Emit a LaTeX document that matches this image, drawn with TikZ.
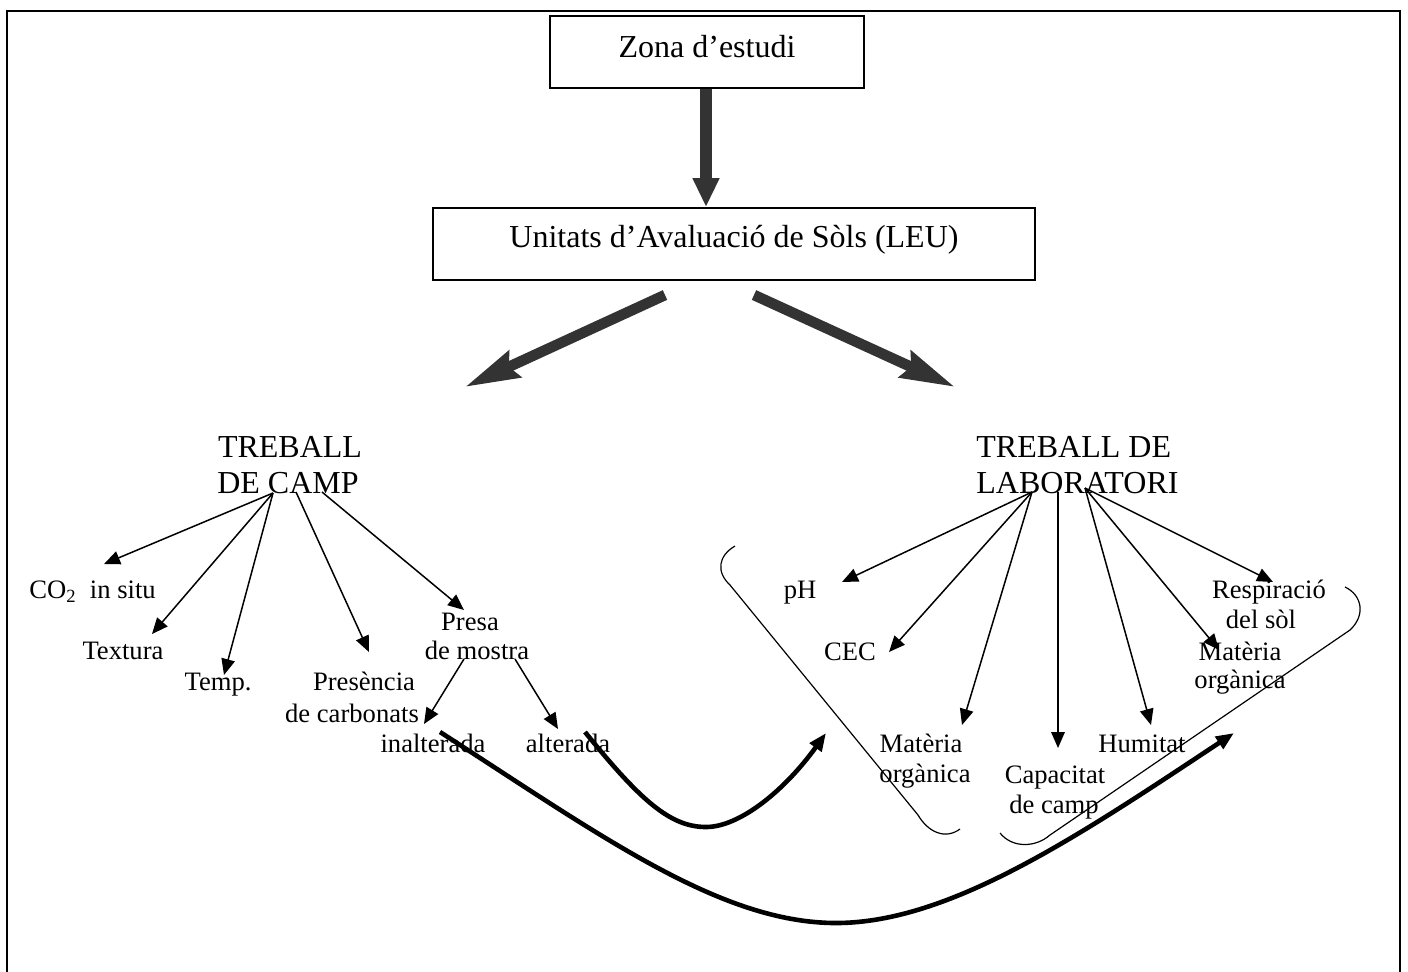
\documentclass[tikz,border=0pt]{standalone}
\usepackage{fontspec}
\setmainfont{Liberation Serif}
\usetikzlibrary{arrows.meta}
\definecolor{fatgray}{HTML}{333333}
\begin{document}
\begin{tikzpicture}[x=0.5pt,y=-0.5pt,
  big/.style={font=\fontsize{16}{18}\selectfont, inner sep=0pt, anchor=base},
  small/.style={font=\fontsize{13.3}{15.5}\selectfont, inner sep=0pt, anchor=base},
  boxnode/.style={draw, line width=0.9pt, inner sep=0pt, font=\fontsize{16}{18}\selectfont},
  fatdown/.style={draw=fatgray, line width=6pt, -{Triangle[length=14.5pt,width=12.5pt]}, fatgray},
  fatdiag/.style={draw=fatgray, line width=5.3pt, -{Stealth[length=27pt,width=14pt,inset=3pt]}, fatgray},
  thinarrow/.style={line width=0.75pt, -{Triangle[length=8pt,width=6.8pt]}},
  curvearrow/.style={line width=2.3pt, -{Triangle[length=9pt,width=7pt]}},
  bracket/.style={line width=0.6pt}]
\useasboundingbox (0,0) rectangle (1408,971);
% frame
\draw[line width=0.9pt] (7,980) -- (7,11) -- (1400,11) -- (1400,980);

% boxes
\node[boxnode, minimum width=157pt, minimum height=36pt, text height=11pt, text depth=6pt] (zona) at (707,52) {Zona d'estudi};
\node[boxnode, minimum width=301pt, minimum height=36pt, text height=12pt, text depth=9pt] (leu) at (734,244) {Unitats d'Avaluació de Sòls (LEU)};

\draw[fatdown] (zona.south -| 706,0) -- (leu.north -| 706,0);

% fat diagonal arrows
\coordinate (fl0) at (665,295); \coordinate (fl1) at (465,387);
\coordinate (fr0) at (754,295); \coordinate (fr1) at (955,387);
\draw[fatdiag] (fl0) -- (fl1);
\draw[fatdiag] (fr0) -- (fr1);

% headings
\node[big] (tc1) at (290,457) {TREBALL};
\node[big] (tc2) at (288,493) {DE CAMP};
\node[big, anchor=base west] (tl1) at (976,457) {TREBALL DE};
\node[big, anchor=base west] (tl2) at (976,493) {LABORATORI};

% left labels
\node[small, anchor=base west] (co2) at (29,598) {CO\textsubscript{2}\ \ in situ};
\node[small] (textura) at (123,659) {Textura};
\node[small] (temp) at (218,690) {Temp.};
\node[small] (pres1) at (364,690) {Presència};
\node[small] (pres2) at (352,722) {de carbonats};
\node[small] (presa1) at (470,630) {Presa};
\node[small] (presa2) at (477,659) {de mostra};
\node[small] (inal) at (433,752) {inalterada};
\node[small] (alt) at (568,752) {alterada};

% right labels
\node[small] (ph) at (800,598) {pH};
\node[small] (cec) at (850,660) {CEC};
\node[small] (mo1a) at (921,752) {Matèria};
\node[small] (mo1b) at (925,782) {orgànica};
\node[small] (cap1) at (1055,783) {Capacitat};
\node[small] (cap2) at (1054,813) {de camp};
\node[small] (hum) at (1142,752) {Humitat};
\node[small] (resp1) at (1269,598) {Respiració};
\node[small] (resp2) at (1261,628) {del sòl};
\node[small] (mo2a) at (1240,660) {Matèria};
\node[small] (mo2b) at (1240,688) {orgànica};

% left thin arrows
\coordinate (oL1) at (273,493);
\coordinate (oL2) at (296,492);
\coordinate (oL3) at (322,492);
\coordinate (tCO) at (104,564);
\coordinate (tTx) at (152,634);
\coordinate (tTp) at (224,675);
\coordinate (tPr) at (369,652);
\coordinate (tPs) at (464,610);
\draw[thinarrow] (oL1) -- (tCO);
\draw[thinarrow] (oL1) -- (tTx);
\draw[thinarrow] (oL1) -- (tTp);
\draw[thinarrow] (oL2) -- (tPr);
\draw[thinarrow] (oL3) -- (tPs);
\coordinate (oP1) at (464,659);
\coordinate (oP2) at (515,659);
\coordinate (tIn) at (424,724);
\coordinate (tAl) at (558,729);
\draw[thinarrow] (oP1) -- (tIn);
\draw[thinarrow] (oP2) -- (tAl);

% right thin arrows
\coordinate (oR1) at (1032,492);
\coordinate (oR2) at (1058,492);
\coordinate (oR3) at (1085,488);
\coordinate (tPH) at (842,582);
\coordinate (tCE) at (889,652);
\coordinate (tM1) at (962,725);
\coordinate (tCa) at (1058,748);
\coordinate (tHu) at (1151,725);
\coordinate (tM2) at (1219,650);
\coordinate (tRe) at (1273,582);
\draw[thinarrow] (oR1) -- (tPH);
\draw[thinarrow] (oR1) -- (tCE);
\draw[thinarrow] (oR1) -- (tM1);
\draw[thinarrow] (oR2) -- (tCa);
\draw[thinarrow] (oR3) -- (tHu);
\draw[thinarrow] (oR3) -- (tM2);
\draw[thinarrow] (oR3) -- (tRe);

% brackets
\draw[bracket] (735,546) .. controls (718,556) and (716,572) .. (730,585)
  -- (918,815) .. controls (928,832) and (945,840) .. (960,829);
\draw[bracket] (1345,587) .. controls (1362,595) and (1366,615) .. (1350,630)
  -- (1050,835) .. controls (1035,848) and (1012,848) .. (1000,833);

% thick curved arrows
\coordinate (cBs) at (440,732);
\coordinate (cBe) at (1234,733);
\coordinate (cSs) at (585,732);
\coordinate (cSe) at (826,733);
\draw[curvearrow] (cBs) .. controls (600,835) and (720,923) .. (836,923)
  .. controls (950,923) and (1080,835) .. (cBe);
\draw[curvearrow] (cSs) .. controls (640,800) and (670,827) .. (706,827)
  .. controls (740,827) and (785,790) .. (cSe);
\end{tikzpicture}
\end{document}
